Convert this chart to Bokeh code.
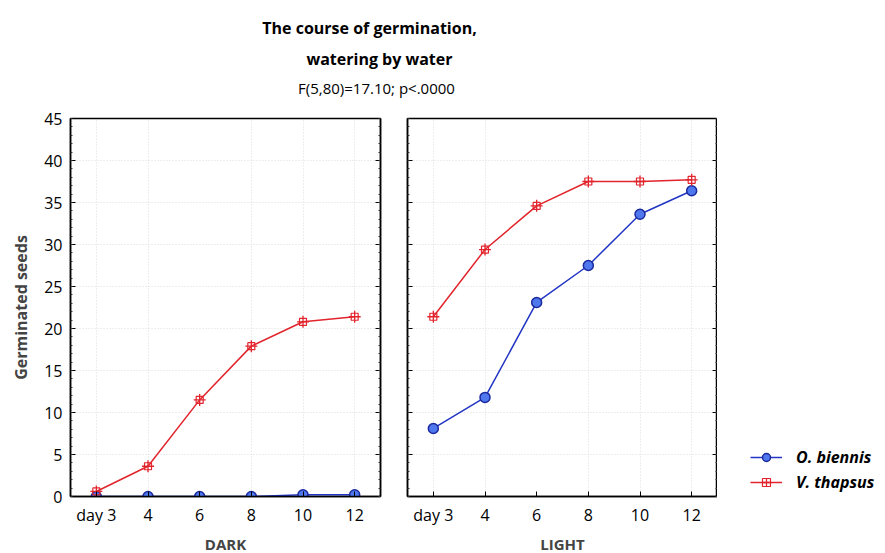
from bokeh.plotting import figure
from bokeh.layouts import column, row
from bokeh.models import (Range1d, FactorRange, LinearAxis, Legend, LegendItem,
                          SingleIntervalTicker, ColumnDataSource, CustomJSTickFormatter)
from bokeh.core.properties import value
from bokeh.embed import file_html
from bokeh.resources import INLINE

# Germination counts per observation day
days = ["day 3", "4", "6", "8", "10", "12"]
dark_biennis = [0.0, 0.0, 0.0, 0.0, 0.2, 0.2]
dark_thapsus = [0.6, 3.6, 11.5, 17.9, 20.8, 21.4]
light_biennis = [8.1, 11.8, 23.1, 27.5, 33.6, 36.4]
light_thapsus = [21.4, 29.4, 34.6, 37.5, 37.5, 37.7]

title_lines = ["The course of germination,", "watering by water", "F(5,80)=17.10; p<.0000"]
panel_names = ["DARK", "LIGHT"]
series_names = ["O. biennis", "V. thapsus"]

FONT = "Open Sans"
RED = "#e2242c"
BLUE_LINE = "#2235c4"
BLUE_FILL = "#4f78ee"
BLUE_EDGE = "#1b2a9e"


def style_axis(ax, labels=True):
    ax.axis_line_color = "black"
    ax.axis_line_width = 1.5
    ax.major_tick_in = 5
    ax.major_tick_out = 0
    ax.major_tick_line_color = "black"
    ax.minor_tick_in = 2
    ax.minor_tick_out = 0
    ax.minor_tick_line_color = "#333333"
    ax.major_label_text_font = FONT
    ax.major_label_text_font_size = "16px"
    ax.major_label_text_color = "black"
    if not labels:
        ax.formatter = CustomJSTickFormatter(code="return ''")
        ax.major_label_standoff = 0
    ax.axis_label_text_font = FONT
    ax.axis_label_text_font_style = "bold"
    ax.axis_label_text_font_size = "15px"


def draw_series(p, src):
    """Blue circles for O. biennis, red crossed boxes for V. thapsus."""
    b = [p.line("day", "biennis", source=src, line_color=BLUE_LINE, line_width=1.5),
         p.scatter("day", "biennis", source=src, marker="circle", size=10,
                   fill_color=BLUE_FILL, line_color=BLUE_EDGE, line_width=1.5)]
    t = [p.line("day", "thapsus", source=src, line_color=RED, line_width=1.5),
         p.scatter("day", "thapsus", source=src, marker="square", size=7,
                   fill_color=None, line_color=RED, line_width=1.2),
         p.scatter("day", "thapsus", source=src, marker="cross", size=12,
                   line_color=RED, line_width=1.3)]
    return b, t


def make_panel(name, biennis, thapsus, first, border_left, border_right):
    p = figure(x_range=FactorRange(factors=days), y_range=Range1d(0, 45),
               frame_width=310, frame_height=378,
               min_border_left=border_left, min_border_right=border_right,
               min_border_top=10, min_border_bottom=57,
               output_backend="svg", toolbar_location=None,
               background_fill_color="white", border_fill_color="white")
    p.outline_line_color = "black"
    p.outline_line_width = 1.5

    p.xgrid.grid_line_color = "#dcdcdc"
    p.xgrid.grid_line_dash = "1 2"
    p.ygrid.grid_line_color = "#dcdcdc"
    p.ygrid.grid_line_dash = "1 2"

    src = ColumnDataSource(dict(day=days, biennis=biennis, thapsus=thapsus))
    draw_series(p, src)

    p.yaxis.ticker = SingleIntervalTicker(interval=5, num_minor_ticks=5)
    style_axis(p.yaxis[0], labels=first)
    if first:
        p.yaxis.major_label_standoff = 8
        p.yaxis.axis_label = "Germinated seeds"
        p.yaxis.axis_label_standoff = 9
        p.yaxis.axis_label_text_font_size = "16px"

    right_ax = LinearAxis(ticker=SingleIntervalTicker(interval=5, num_minor_ticks=5))
    style_axis(right_ax, labels=False)
    p.add_layout(right_ax, "right")

    style_axis(p.xaxis[0])
    p.xaxis.axis_label = name
    p.xaxis.major_label_standoff = 7
    p.xaxis.axis_label_standoff = 5
    p.xaxis.minor_tick_in = 0

    return p, src


left, _ = make_panel(panel_names[0], dark_biennis, dark_thapsus, True, 70, 13)
right, light_src = make_panel(panel_names[1], light_biennis, light_thapsus, False, 14, 0)

# Legend column to the right of the panels; its own series sit outside its empty view
key = figure(x_range=FactorRange(factors=days), y_range=Range1d(100, 145),
             width=168, height=445, min_border=0,
             x_axis_type=None, y_axis_type=None,
             output_backend="svg", toolbar_location=None)
key.outline_line_color = None
key.xgrid.visible = False
key.ygrid.visible = False
key_b, key_t = draw_series(key, light_src)

legend = Legend(items=[LegendItem(label=series_names[0], renderers=key_b),
                       LegendItem(label=series_names[1], renderers=key_t)],
                location=(33, 0), orientation="vertical",
                padding=0, margin=0, spacing=3,
                glyph_width=32, glyph_height=20, label_height=20, label_standoff=14,
                border_line_color=None, background_fill_alpha=0)
legend.label_text_font = FONT
legend.label_text_font_style = "bold italic"
legend.label_text_font_size = "16px"
legend.label_text_color = "black"
key.add_layout(legend, "center")

# Heading block above both panels
header = figure(x_range=Range1d(0, 885), y_range=Range1d(108, 0),
                frame_width=885, frame_height=108, min_border=0,
                x_axis_type=None, y_axis_type=None,
                output_backend="svg", toolbar_location=None)
header.outline_line_color = None
header.xgrid.visible = False
header.ygrid.visible = False
header.text(x=[369, 379], y=[27, 58], text=title_lines[:2],
            text_font=value(FONT), text_font_style="bold", text_font_size="16px",
            text_align="center", text_baseline="middle", text_color="black")
header.text(x=[376], y=[87], text=title_lines[2:],
            text_font=value(FONT), text_font_size="15px",
            text_align="center", text_baseline="middle", text_color="black")

layout = column(header, row(left, right, key, spacing=0), spacing=0)

with open("out.html", "w") as f:
    f.write(file_html(layout, INLINE))
